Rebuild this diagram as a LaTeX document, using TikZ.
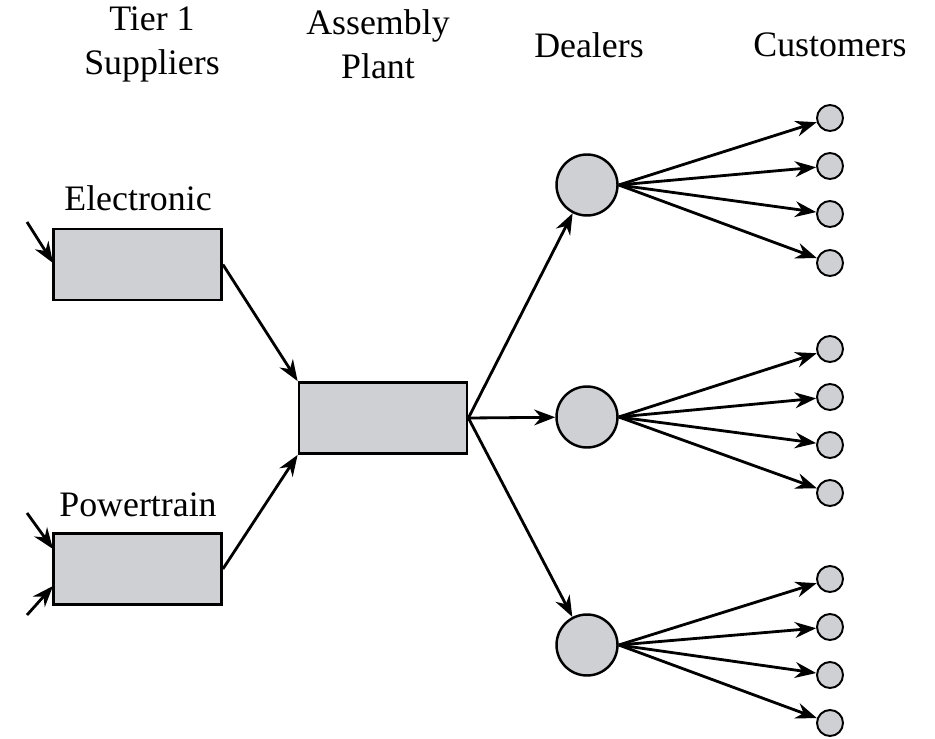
\documentclass[tikz,border=0pt]{standalone}
\usepackage{fontspec}
\setmainfont{Liberation Serif}
\usetikzlibrary{arrows.meta}
\definecolor{boxgray}{RGB}{206,208,211}
\begin{document}
\begin{tikzpicture}[x=0.02cm, y=-0.02cm,
        font=\fontsize{20.4}{25}\selectfont,
        >={Stealth[length=12pt, width=9pt]}, line width=1.6pt,
        plantbox/.style={rectangle, draw, fill=boxgray, line width=1.6pt, inner sep=0pt, minimum width=3.36cm, minimum height=1.42cm},
        dealer/.style={circle, draw, fill=boxgray, line width=1.4pt, inner sep=0pt, minimum size=1.22cm},
        customer/.style={circle, draw, fill=boxgray, line width=1.1pt, inner sep=0pt, minimum size=0.52cm}]
        \useasboundingbox (0,0) rectangle (935,739);
        % column titles
        \node (tier) [align=center] at (152,44) {Tier 1\\Suppliers};
        \node (plant) [align=center] at (378,44) {Assembly\\Plant};
        \node (dealers) at (589,45) {Dealers};
        \node (customers) at (830,45) {Customers};

        % suppliers and plant
        \node (elec) [plantbox] at (137.5,264.5) {};
        \node (elecname) at (138,198) {Electronic};
        \node (power) [plantbox] at (137.5,569) {};
        \node (powername) at (138,505) {Powertrain};
        \node (asm) [plantbox] at (383,418) {};
        \coordinate (in1) at (27,222);
        \coordinate (in2) at (27,513);
        \coordinate (in3) at (27,615);

        % dealers
        \node (d1) [dealer] at (587,185) {};
        \node (d2) [dealer] at (587,417) {};
        \node (d3) [dealer] at (587,645) {};

        % customers
        \node (c1) [customer] at (830,118) {};
        \node (c2) [customer] at (830,166) {};
        \node (c3) [customer] at (830,214) {};
        \node (c4) [customer] at (830,263) {};
        \node (c5) [customer] at (830,349) {};
        \node (c6) [customer] at (830,397) {};
        \node (c7) [customer] at (830,445) {};
        \node (c8) [customer] at (830,493) {};
        \node (c9) [customer] at (830,579) {};
        \node (c10) [customer] at (830,627) {};
        \node (c11) [customer] at (830,675) {};
        \node (c12) [customer] at (830,723) {};

        \draw [->] (in1) -- (53,263);
        \draw [->] (in2) -- (53,549);
        \draw [->] (in3) -- (53,586);
        \draw [->] (elec.east) -- (asm.north west);
        \draw [->] (power.east) -- (asm.south west);
        \draw [->] (asm.east) -- (d1);
        \draw [->] (asm.east) -- (d2);
        \draw [->] (asm.east) -- (d3);
        \draw [->] (d1.east) -- (c1);
        \draw [->] (d1.east) -- (c2);
        \draw [->] (d1.east) -- (c3);
        \draw [->] (d1.east) -- (c4);
        \draw [->] (d2.east) -- (c5);
        \draw [->] (d2.east) -- (c6);
        \draw [->] (d2.east) -- (c7);
        \draw [->] (d2.east) -- (c8);
        \draw [->] (d3.east) -- (c9);
        \draw [->] (d3.east) -- (c10);
        \draw [->] (d3.east) -- (c11);
        \draw [->] (d3.east) -- (c12);
    \end{tikzpicture}
\end{document}
